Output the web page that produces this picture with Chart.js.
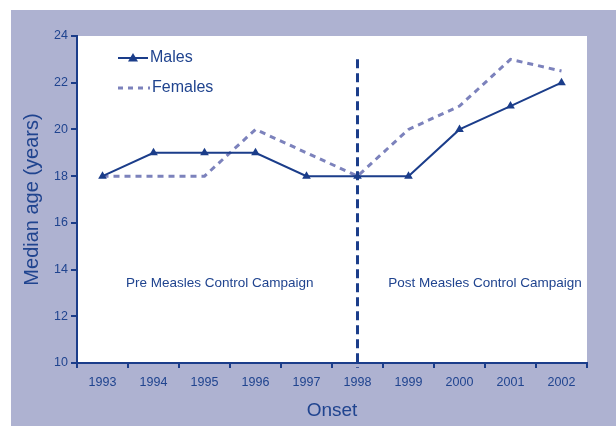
<!DOCTYPE html>
<html>
<head>
<meta charset="utf-8">
<script src="https://cdn.jsdelivr.net/npm/chart.js@4.4.1/dist/chart.umd.min.js"></script>
<style>
  html, body { margin: 0; padding: 0; background: #fff; }
  #wrap { width: 616px; height: 426px; position: relative; }
</style>
</head>
<body>
<div id="wrap"><canvas id="mylinegraph" width="616" height="426"></canvas></div>
<script>
// data
var years = ['1993', '1994', '1995', '1996', '1997', '1998', '1999', '2000', '2001', '2002'];
var males = [18, 19, 19, 19, 18, 18, 18, 20, 21, 22];
var females = [18, 18, 18, 20, 19, 18, 20, 21, 23, 22.5];
var campaignYear = '1998';
var campaignLineTop = 23;
var periodLabels = ['Pre Measles Control Campaign', 'Post Measles Control Campaign'];
var periodLabelYears = [2.3, 7.5];   // category position of label centres
var periodLabelValue = 13.4;

var navy = '#1b3d8a';
var lilac = '#7c82bc';
var textCol = '#20448f';
var panel = '#aeb2d1';
var font = '"Liberation Sans", Arial, sans-serif';

// panel background, white plot area, campaign line, notes and legend
var decor = {
  id: 'decor',
  beforeDraw: function(chart) {
    var c = chart.ctx, a = chart.chartArea;
    c.save();
    c.fillStyle = '#fff';
    c.fillRect(0, 0, chart.width, chart.height);
    c.fillStyle = panel;
    c.fillRect(11, 10, chart.width - 11, chart.height - 10);
    c.fillStyle = '#fff';
    c.fillRect(a.left, a.top, a.right - a.left, a.bottom - a.top);
    c.restore();
  },
  beforeDatasetsDraw: function(chart) {
    var c = chart.ctx, x = chart.scales.x, y = chart.scales.y;
    var px = x.getPixelForValue(years.indexOf(campaignYear));
    c.save();
    c.strokeStyle = navy;
    c.lineWidth = 3;
    c.setLineDash([9, 5]);
    c.beginPath();
    c.moveTo(px, y.getPixelForValue(campaignLineTop));
    c.lineTo(px, y.getPixelForValue(10) + 5);
    c.stroke();
    c.setLineDash([]);
    c.fillStyle = textCol;
    c.font = '13.5px ' + font;
    c.textAlign = 'center';
    c.textBaseline = 'middle';
    for (var i = 0; i < periodLabels.length; i++) {
      c.fillText(periodLabels[i], x.getPixelForValue(periodLabelYears[i]), y.getPixelForValue(periodLabelValue));
    }
    c.restore();
  },
  afterDraw: function(chart) {
    var c = chart.ctx, a = chart.chartArea;
    var lx = a.left + 41, ly = a.top + 22;
    c.save();
    // Males
    c.strokeStyle = navy;
    c.lineWidth = 2;
    c.beginPath();
    c.moveTo(lx, ly); c.lineTo(lx + 30, ly);
    c.stroke();
    c.fillStyle = navy;
    c.beginPath();
    c.moveTo(lx + 15, ly - 5); c.lineTo(lx + 20, ly + 3.5); c.lineTo(lx + 10, ly + 3.5);
    c.closePath(); c.fill();
    // Females
    c.strokeStyle = lilac;
    c.lineWidth = 3;
    c.setLineDash([5, 5]);
    c.beginPath();
    c.moveTo(lx, ly + 30); c.lineTo(lx + 32, ly + 30);
    c.stroke();
    c.setLineDash([]);
    c.fillStyle = textCol;
    c.font = '16px ' + font;
    c.textBaseline = 'middle';
    c.fillText('Males', lx + 32, ly);
    c.fillText('Females', lx + 34, ly + 30);
    c.restore();
  }
};

var chartdata = {
  labels: years,
  datasets: [
    {
      label: 'Males',
      data: males,
      borderColor: navy,
      backgroundColor: navy,
      borderWidth: 2,
      pointStyle: 'triangle',
      pointRadius: 5,
      pointBorderWidth: 0,
      tension: 0,
      fill: false
    },
    {
      label: 'Females',
      data: females,
      borderColor: lilac,
      backgroundColor: lilac,
      borderWidth: 3,
      borderDash: [6, 5],
      pointRadius: 0,
      tension: 0,
      fill: false
    }
  ]
};

var ctx = document.getElementById('mylinegraph');
var LineGraph = new Chart(ctx, {
  type: 'line',
  data: chartdata,
  plugins: [decor],
  options: {
    responsive: false,
    animation: false,
    layout: { padding: { top: 36, right: 29, left: 16, bottom: 0 } },
    plugins: { legend: { display: false }, tooltip: { enabled: false } },
    scales: {
      x: {
        offset: true,
        grid: { offset: true, drawOnChartArea: false, color: navy, lineWidth: 2, tickLength: 5 },
        border: { color: navy, width: 2 },
        ticks: { color: textCol, font: { family: font, size: 12.5 }, padding: 7, maxRotation: 0 },
        title: { display: true, text: 'Onset', color: textCol, font: { family: font, size: 19 }, padding: { top: 4 } },
        afterFit: function(s) { s.height = 63; }
      },
      y: {
        min: 10,
        max: 24,
        ticks: { stepSize: 2, color: textCol, font: { family: font, size: 12.5 }, padding: 3 },
        grid: { drawOnChartArea: false, color: navy, lineWidth: 2, tickLength: 6 },
        border: { color: navy, width: 2 },
        title: { display: true, text: 'Median age (years)', color: textCol, font: { family: font, size: 20 }, padding: { bottom: 0 } },
        afterFit: function(s) { s.width = 61; }
      }
    }
  }
});
</script>
</body>
</html>
